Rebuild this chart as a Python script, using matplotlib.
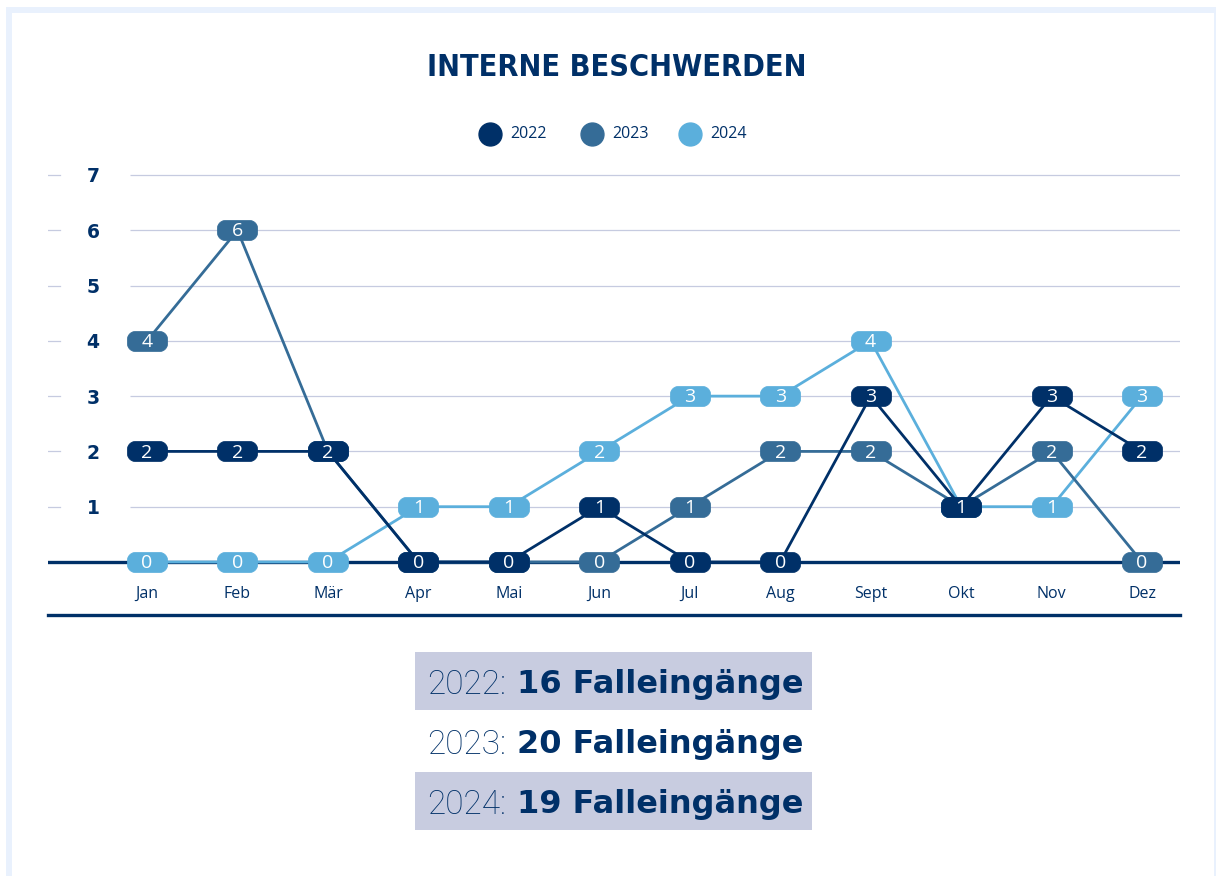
import numpy as np
import matplotlib
matplotlib.use("Agg")
import matplotlib.pyplot as plt
from matplotlib.path import Path
from matplotlib.patches import Rectangle

# ---- data ----
months = ["Jan", "Feb", "Mär", "Apr", "Mai", "Jun", "Jul", "Aug", "Sept", "Okt", "Nov", "Dez"]
years = ["2022", "2023", "2024"]
v2022 = [2, 2, 2, 0, 0, 1, 0, 0, 3, 1, 3, 2]
v2023 = [4, 6, 2, 0, 0, 0, 1, 2, 2, 1, 2, 0]
v2024 = [0, 0, 0, 1, 1, 2, 3, 3, 4, 1, 1, 3]
totals = [16, 20, 19]
yticks = [1, 2, 3, 4, 5, 6, 7]

NAVY = "#003068"
C2023 = "#356c97"
C2024 = "#5bafdc"
GRID = "#c6cbe0"
BOXBG = "#c8cce0"
FRAME = "#e9f1fd"
colors = {"2022": NAVY, "2023": C2023, "2024": C2024}
series = {"2022": v2022, "2023": v2023, "2024": v2024}

W, H = 1217, 876
fig = plt.figure(figsize=(W / 100, H / 100), dpi=100)
fig.patch.set_facecolor("white")

def fx(px):
    return px / W

def fy(py):
    return 1 - py / H

# frame
fig.patches.append(Rectangle((fx(6), fy(13)), fx(1215) - fx(6), fy(7) - fy(13),
                             transform=fig.transFigure, facecolor=FRAME, edgecolor="none", zorder=0))
fig.patches.append(Rectangle((fx(6), 0), fx(12) - fx(6), fy(13),
                             transform=fig.transFigure, facecolor=FRAME, edgecolor="none", zorder=0))
fig.patches.append(Rectangle((fx(1214), 0), fx(1216) - fx(1214), fy(7),
                             transform=fig.transFigure, facecolor=FRAME, edgecolor="none", zorder=0))

# axes placement
left, right, top, bottom = 48, 1180, 158.4, 615
ax = fig.add_axes([fx(left), fy(bottom), fx(right) - fx(left), fy(top) - fy(bottom)])
ax.set_facecolor("none")
x = np.arange(len(months))
ax.set_xlim(-1.095, 11.42)
ax.set_ylim(-0.959, 7.3)

for s in ["top", "right", "left"]:
    ax.spines[s].set_visible(False)
ax.spines["bottom"].set_color(NAVY)
ax.spines["bottom"].set_linewidth(2.4)

# gridlines (start at ~130px)
gx0 = (130 - 147) / 90.45
for yv in yticks:
    ax.plot([gx0, 11.42], [yv, yv], color=GRID, lw=0.9, zorder=1, solid_capstyle="butt")
    ax.plot([-1.095, -0.96], [yv, yv], color=GRID, lw=0.9, zorder=1)

ax.set_yticks(yticks)
ax.set_yticklabels([str(v) for v in yticks], fontsize=13.5, fontweight="heavy",
                   color=NAVY, fontfamily="DejaVu Sans")
ax.tick_params(axis="y", length=0, pad=-37)

ax.set_xticks(x)
ax.set_xticklabels(months, fontsize=11.5, color=NAVY, fontfamily="Open Sans")
ax.tick_params(axis="x", length=0, pad=-21)

# zero line
ax.axhline(0, color=NAVY, lw=2.4, zorder=2)

# pill marker
r = 0.4
t = np.linspace(0, np.pi / 2, 10)
def arc(cx, cy, a0):
    return [(cx + r * np.cos(a0 + tt), cy + r * np.sin(a0 + tt)) for tt in t]
verts = []
verts += arc(1 - r, 0.5 - r, 0)
verts += arc(-1 + r, 0.5 - r, np.pi / 2)
verts += arc(-1 + r, -0.5 + r, np.pi)
verts += arc(1 - r, -0.5 + r, 3 * np.pi / 2)
verts.append(verts[0])
codes = [Path.MOVETO] + [Path.LINETO] * (len(verts) - 2) + [Path.CLOSEPOLY]
pill = Path(verts, codes)

order = ["2024", "2023", "2022"]
for i, yr in enumerate(order):
    vals = series[yr]
    c = colors[yr]
    z = 3 + i * 2
    ax.plot(x, vals, color=c, lw=2.0, zorder=z, solid_joinstyle="round")
    ax.plot(x, vals, linestyle="none", marker=pill, markersize=29, markerfacecolor=c,
            markeredgecolor=c, markeredgewidth=0.5, zorder=z + 0.5)
    for xi, v in zip(x, vals):
        ax.text(xi, v - 0.02, str(v), color="white", ha="center", va="center", fontsize=14,
                fontfamily="Open Sans", zorder=z + 0.6)

# title
fig.text(fx(617), fy(68), "INTERNE BESCHWERDEN", ha="center", va="center",
         fontsize=22, fontweight="bold", fontstretch="condensed", color=NAVY,
         fontfamily="DejaVu Sans")

# legend
for xc, yr in zip([490, 592, 690], years):
    fig.lines.append(plt.Line2D([fx(xc)], [fy(134)], marker="o", markersize=16.5,
                                markerfacecolor=colors[yr], markeredgecolor=colors[yr],
                                transform=fig.transFigure, linestyle="none"))
    fig.text(fx(xc + 20), fy(134), yr, ha="left", va="center", fontsize=11.5,
             color=NAVY, fontfamily="Open Sans")

# summary boxes
for yc, has_bg in [(681, True), (741, False), (801, True)]:
    if has_bg:
        fig.patches.append(Rectangle((fx(415), fy(yc + 29)), fx(812) - fx(415), fy(yc - 29) - fy(yc + 29),
                                     transform=fig.transFigure, facecolor=BOXBG, edgecolor="none", zorder=0))

texts = []
for yr, tot, yc in zip(years, totals, [681, 741, 801]):
    t1 = fig.text(fx(427), fy(yc), f"{yr}:", ha="left", va="center_baseline", fontsize=24,
                  color=NAVY, fontfamily="Roboto", fontweight="light")
    t2 = fig.text(0, 0, f"{tot} Falleingänge", ha="left", va="center_baseline", fontsize=23,
                  color=NAVY, fontfamily="DejaVu Sans", fontweight="bold")
    texts.append((t1, t2, yc))

fig.canvas.draw()
rend = fig.canvas.get_renderer()
gap = 11
for t1, t2, yc in texts:
    b1 = t1.get_window_extent(rend)
    b2 = t2.get_window_extent(rend)
    total = b1.width + gap + b2.width
    x0 = 615 - total / 2
    t1.set_position((fx(x0), fy(yc)))
    t2.set_position((fx(x0 + b1.width + gap), fy(yc)))

fig.savefig("out.png", dpi=100, facecolor="white")
